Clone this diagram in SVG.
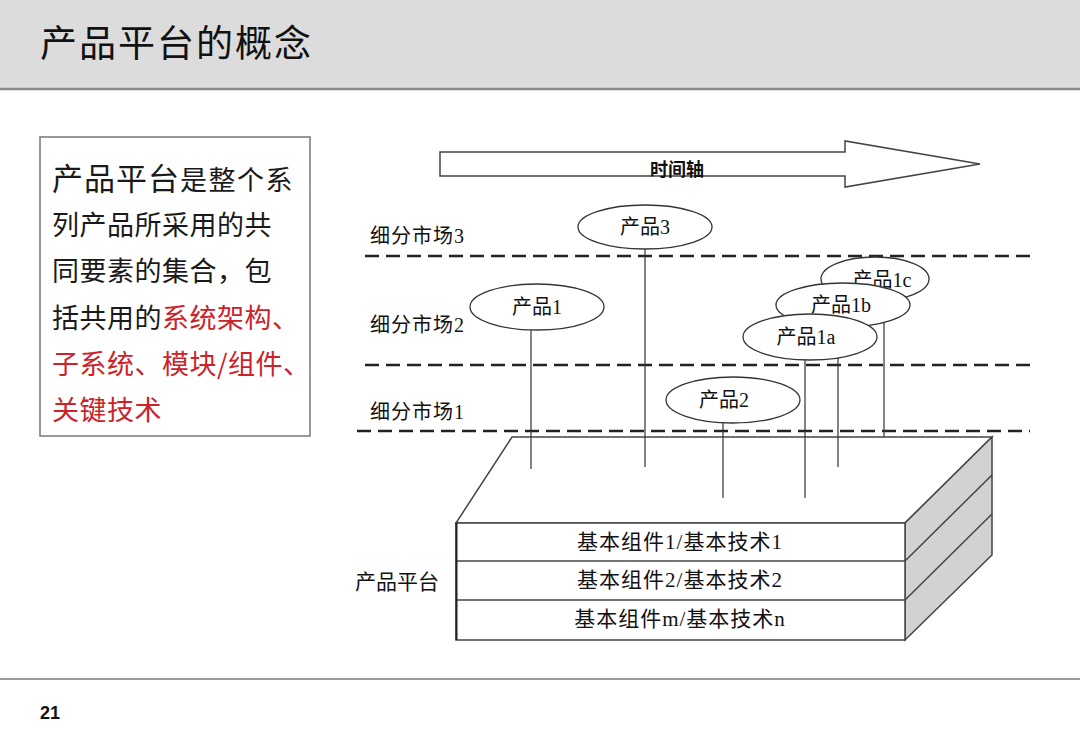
<svg xmlns="http://www.w3.org/2000/svg" width="1080" height="747" viewBox="0 0 1080 747">
<style>
.cn{font-family:"Liberation Serif","Noto Sans CJK SC",serif;fill:#111}
.lbl{font-size:20px}
.ell{fill:#fff;stroke:#333;stroke-width:1.3}
.dash{stroke:#222;stroke-width:2.5;stroke-dasharray:14 7;fill:none}
.vl{stroke:#333;stroke-width:1.2}
.body{font-family:"Noto Sans CJK SC",sans-serif;font-size:27px;fill:#1a1a1a}
.red{fill:#cc2229}
.edge{stroke:#444;stroke-width:1.5}
.row{font-size:21px;letter-spacing:1px}
</style>
<rect width="1080" height="747" fill="#fff"/>
<g id="header">
<rect x="0" y="0" width="1080" height="88" fill="#dcdcdc"/>
<line x1="0" y1="89" x2="1080" y2="89" stroke="#888" stroke-width="2.5"/>
<text x="40" y="57" font-family="Noto Sans CJK SC,sans-serif" font-size="37" fill="#111" letter-spacing="2">产品平台的概念</text>
</g>
<g id="desc">
<rect x="40" y="137" width="270" height="299" fill="#fff" stroke="#777" stroke-width="1.5"/>
<text class="body" x="52" y="190"><tspan font-size="31" letter-spacing="1">产品平台</tspan><tspan font-size="27" letter-spacing="1.5">是整个系</tspan></text>
<text class="body" x="52" y="235" letter-spacing="0.5">列产品所采用的共</text>
<text class="body" x="52" y="281" letter-spacing="0.5">同要素的集合，包</text>
<text class="body" x="52" y="328" letter-spacing="0.5">括共用的<tspan class="red">系统架构、</tspan></text>
<text class="body red" x="52" y="374" letter-spacing="0.5">子系统、模块/组件、</text>
<text class="body red" x="52" y="420" letter-spacing="0.5">关键技术</text>
</g>
<g id="timeline">
<polygon points="440,152 845,152 845,141 980,164 845,187 845,176 440,176" fill="#fff" stroke="#444" stroke-width="1.5"/>
<text class="cn" x="677" y="176" font-size="18" text-anchor="middle" font-weight="bold">时间轴</text>
</g>
<g id="markets">
<text class="cn lbl" x="370" y="243" letter-spacing="1">细分市场3</text>
<text class="cn lbl" x="370" y="332" letter-spacing="1">细分市场2</text>
<text class="cn lbl" x="370" y="419" letter-spacing="1">细分市场1</text>
</g>
<g id="platform">
<polygon points="512,437 992,437 905,523 456,523" fill="#fff" stroke="#444" stroke-width="1.5"/>
<polygon points="905,523 992,437 992,555 905,640" fill="#d2d2d2" stroke="#444" stroke-width="1.5"/>
<line class="edge" x1="905" y1="561" x2="992" y2="475"/>
<line class="edge" x1="905" y1="600" x2="992" y2="514"/>
<rect x="456" y="523" width="449" height="117" fill="#fff" stroke="#444" stroke-width="1.5"/>
<line class="edge" x1="456" y1="561" x2="905" y2="561"/>
<line class="edge" x1="456" y1="600" x2="905" y2="600"/>
<line x1="456.5" y1="523" x2="456.5" y2="640" stroke="#222" stroke-width="2"/>
<text class="cn row" x="680" y="549" text-anchor="middle">基本组件1/基本技术1</text>
<text class="cn row" x="680" y="587" text-anchor="middle">基本组件2/基本技术2</text>
<text class="cn row" x="680" y="626" text-anchor="middle">基本组件m/基本技术n</text>
<text class="cn" x="355" y="589" font-size="21">产品平台</text>
</g>
<g id="connectors">
<line class="dash" x1="365" y1="256" x2="1030" y2="256"/>
<line class="dash" x1="365" y1="365" x2="1030" y2="365"/>
<line class="dash" x1="357" y1="431" x2="1030" y2="431"/>
<line class="vl" x1="645" y1="249" x2="645" y2="467"/>
<line class="vl" x1="531" y1="330" x2="531" y2="469"/>
<line class="vl" x1="723" y1="423" x2="723" y2="498"/>
<line class="vl" x1="805" y1="358" x2="805" y2="498"/>
<line class="vl" x1="838" y1="358" x2="838" y2="467"/>
<line class="vl" x1="884" y1="320" x2="884" y2="437"/>
</g>
<g id="p3"><ellipse class="ell" cx="645" cy="227" rx="67" ry="22"/><text class="cn lbl" x="645" y="234" text-anchor="middle">产品3</text></g>
<g id="p1"><ellipse class="ell" cx="537" cy="307" rx="67" ry="23"/><text class="cn lbl" x="537" y="314" text-anchor="middle">产品1</text></g>
<g id="p1c"><ellipse class="ell" cx="875" cy="279" rx="54" ry="22"/><text class="cn lbl" x="882" y="287" text-anchor="middle">产品1c</text></g>
<g id="p1b"><ellipse class="ell" cx="843" cy="305" rx="67" ry="22"/><text class="cn lbl" x="841" y="312" text-anchor="middle">产品1b</text></g>
<g id="p1a"><ellipse class="ell" cx="810" cy="337" rx="67" ry="23"/><text class="cn lbl" x="806" y="344" text-anchor="middle">产品1a</text></g>
<g id="p2"><ellipse class="ell" cx="733" cy="400" rx="67" ry="23"/><text class="cn lbl" x="724" y="407" text-anchor="middle">产品2</text></g>
<g id="footer">
<line x1="0" y1="679" x2="1080" y2="679" stroke="#999" stroke-width="2"/>
<text x="40" y="719" font-family="Liberation Sans,Arial,sans-serif" font-weight="bold" font-size="18" fill="#111">21</text>
</g>
</svg>
